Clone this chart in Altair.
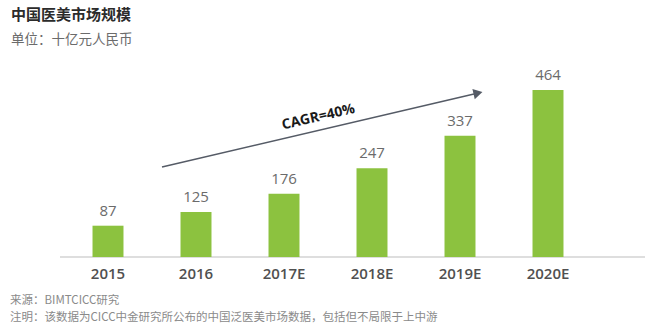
import altair as alt
import pandas as pd

years = ["2015", "2016", "2017E", "2018E", "2019E", "2020E"]
values = [87, 125, 176, 247, 337, 464]

title_text = "中国医美市场规模"
subtitle_text = "单位：十亿元人民币"
source_text = "来源：BIMTCICC研究"
note_text = "注明：该数据为CICC中金研究所公布的中国泛医美市场数据，包括但不局限于上中游"
cagr_text = "CAGR=40%"

df = pd.DataFrame({"year": years, "value": values})

CJK = "Noto Sans CJK SC"
NUM = "Open Sans"
GREEN = "#8cc23f"

x = alt.X("year:N", sort=years,
          scale=alt.Scale(paddingInner=0.648, paddingOuter=0.324),
          axis=alt.Axis(title=None, labelAngle=0, domain=False, ticks=False,
                        labelFont=NUM, labelFontSize=15, labelFontWeight=600,
                        labelColor="#505050", labelPadding=9))
y = alt.Y("value:Q", scale=alt.Scale(domain=[0, 492], nice=False, zero=True),
          axis=None)

base = alt.Chart(df)

bars = base.mark_bar(color=GREEN).encode(x=x, y=y)
labels = base.mark_text(dy=-7, baseline="bottom", font=NUM, fontSize=15,
                        color="#6b6b6b").encode(x=x, y=y, text="value:Q")

axis_line = alt.Chart(pd.DataFrame({"v": [0]})).mark_rule(
    color="#bdbdbd", strokeWidth=1.2).encode(
    y=alt.Y("v:Q", scale=alt.Scale(domain=[0, 492], nice=False), axis=None),
    x=alt.value(-4), x2=alt.value(581))

arrow_line = alt.Chart(pd.DataFrame({"v": [0]})).mark_rule(
    color="#555b66", strokeWidth=1.6).encode(
    x=alt.value(98), y=alt.value(87), x2=alt.value(410), y2=alt.value(14))
arrow_head = alt.Chart(pd.DataFrame({"v": [0]})).mark_point(
    shape="triangle-right", filled=True, color="#555b66", size=110, opacity=1,
    angle=347).encode(x=alt.value(414), y=alt.value(13))
cagr = alt.Chart(pd.DataFrame({"t": [cagr_text]})).mark_text(
    font=NUM, fontSize=14, fontWeight="bold", color="#1a1a1a", angle=347,
    align="center", baseline="bottom").encode(
    x=alt.value(256), y=alt.value(44), text="t:N")

def txt(t, xv, yv, size, color, weight="normal"):
    return alt.Chart(pd.DataFrame({"t": [t]})).mark_text(
        font=CJK, fontSize=size, color=color, fontWeight=weight,
        align="left", baseline="alphabetic").encode(
        x=alt.value(xv), y=alt.value(yv), text="t:N")

title = txt(title_text, -53, -60, 15, "#2b2b2b", "bold")
subtitle = txt(subtitle_text, -53, -36, 13.5, "#6b6b6b")
source = txt(source_text, -54, 224, 11.5, "#8a8a8a")
note = txt(note_text, -54, 241, 11.5, "#8a8a8a")

chart = alt.layer(axis_line, bars, labels, arrow_line, arrow_head, cagr,
                  title, subtitle, source, note).properties(
    width=528, height=177,
    background="white",
    autosize=alt.AutoSizeParams(type="none"),
    padding={"left": 64, "top": 80, "right": 67, "bottom": 72},
).configure_view(stroke=None, strokeWidth=0)

chart.save("out.html", embed_options={"renderer": "svg", "actions": False})
